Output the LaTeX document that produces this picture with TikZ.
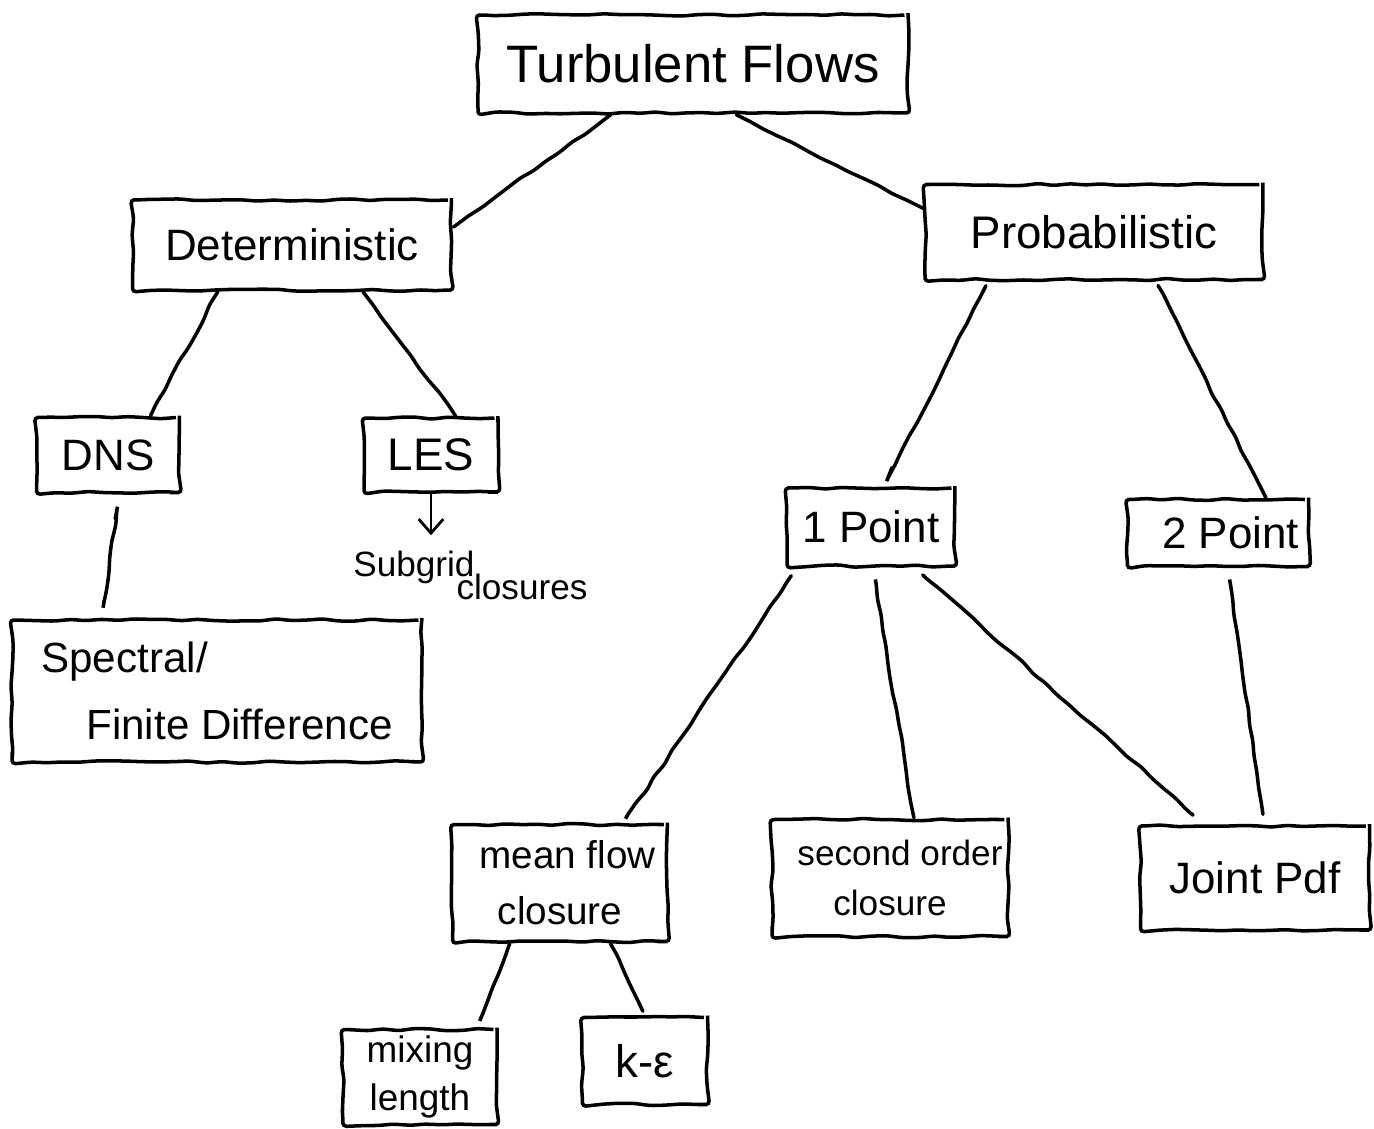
\documentclass[tikz,border=0pt]{standalone}
\usepackage{fontspec}
\setmainfont{Liberation Sans}
\usetikzlibrary{calc,decorations.pathmorphing,arrows.meta}
\begin{document}
\begin{tikzpicture}[x=0.02cm,y=-0.02cm,
  hand/.style={decorate,decoration={random steps,segment length=9pt,amplitude=0.7pt},rounded corners=2pt},
  box/.style={draw,line width=2pt,hand,inner sep=0pt,align=center},
  link/.style={line width=2pt,line cap=round,hand},
  lbl/.style={inner sep=0pt,align=center}]
\useasboundingbox (0,0) rectangle (1374,1129);
% nodes
\node[box,minimum width=8.6cm,minimum height=1.96cm,font=\fontsize{30}{34}\selectfont] (tf) at (693,64) {Turbulent Flows};
\node[box,minimum width=6.38cm,minimum height=1.8cm,font=\fontsize{25}{28}\selectfont] (det) at (292,245) {Deterministic};
\node[box,minimum width=6.76cm,minimum height=1.9cm,font=\fontsize{26}{29}\selectfont] (prob) at (1094,232) {Probabilistic};
\node[box,minimum width=2.86cm,minimum height=1.5cm,font=\fontsize{25}{28}\selectfont] (dns) at (108,455) {DNS};
\node[box,minimum width=2.68cm,minimum height=1.48cm,font=\fontsize{26}{29}\selectfont] (les) at (431,455) {LES};
\node[box,minimum width=3.36cm,minimum height=1.56cm,font=\fontsize{25}{28}\selectfont] (p1) at (871,527) {1 Point};
\node[box,minimum width=3.62cm,minimum height=1.34cm,font=\fontsize{25}{28}\selectfont] (p2) at (1218,533) {\hspace{0.5cm}2 Point};
\node[box,minimum width=8.2cm,minimum height=2.84cm,font=\fontsize{24}{38}\selectfont,align=left] (spec) at (217,691) {Spectral/\\\hspace{0.9cm}Finite Difference};
\node[box,minimum width=4.3cm,minimum height=2.34cm,font=\fontsize{22}{32}\selectfont] (mfc) at (560,883) {\hspace{0.3cm}mean flow\\closure};
\node[box,minimum width=4.72cm,minimum height=2.34cm,font=\fontsize{20}{28}\selectfont] (soc) at (890,878) {\hspace{0.4cm}second order\\closure};
\node[box,minimum width=4.58cm,minimum height=2.08cm,font=\fontsize{25}{28}\selectfont] (jpdf) at (1255,878) {Joint Pdf};
\node[box,minimum width=3.08cm,minimum height=1.9cm,font=\fontsize{21}{27}\selectfont] (mix) at (420,1077) {mixing\\length};
\node[box,minimum width=2.5cm,minimum height=1.74cm,font=\fontsize{26}{29}\selectfont] (ke) at (645,1061) {k-ε};
\node[lbl,font=\fontsize{20}{22}\selectfont] (sub) at (414,567) {Subgrid};
\node[lbl,font=\fontsize{20}{22}\selectfont] (clo) at (522,587) {closures};
% connectors
\draw[link] ($(tf.south west)!0.31!(tf.south east)$) -- ($(det.north east)!0.31!(det.south east)$);
\draw[link] ($(tf.south west)!0.6!(tf.south east)$) -- ($(prob.north west)!0.26!(prob.south west)$);
\draw[link] ($(det.south west)!0.27!(det.south east)$) -- ($(dns.north west)!0.79!(dns.north east)$);
\draw[link] ($(det.south west)!0.72!(det.south east)$) -- ($(les.north west)!0.68!(les.north east)$);
\draw[line width=1.6pt,shorten >=0.3cm,-{Straight Barb[length=8pt,width=14pt]}] (les.south) -- (les.south |- sub.north);
\draw[link,shorten <=0.5cm,shorten >=0.36cm] ($(dns.south west)!0.58!(dns.south east)$) -- ($(spec.north west)!0.22!(spec.north east)$);
\draw[link,shorten <=0.1cm,shorten >=0.4cm] ($(prob.south west)!0.19!(prob.south east)$) -- ($(p1.north west)!0.58!(p1.north east)$);
\draw[link,shorten <=0.1cm] ($(prob.south west)!0.68!(prob.south east)$) -- ($(p2.north west)!0.76!(p2.north east)$);
\draw[link,shorten <=0.2cm,shorten >=0.1cm] ($(p1.south west)!0.07!(p1.south east)$) -- ($(mfc.north west)!0.79!(mfc.north east)$);
\draw[link,shorten <=0.3cm] ($(p1.south west)!0.51!(p1.south east)$) -- ($(soc.north west)!0.6!(soc.north east)$);
\draw[link,shorten <=0.2cm,shorten >=0.28cm] ($(p1.south west)!0.76!(p1.south east)$) -- ($(jpdf.north west)!0.28!(jpdf.north east)$);
\draw[link,shorten <=0.25cm,shorten >=0.2cm] ($(p2.south west)!0.55!(p2.south east)$) -- ($(jpdf.north west)!0.54!(jpdf.north east)$);
\draw[link,shorten >=0.36cm] ($(mfc.south west)!0.27!(mfc.south east)$) -- ($(mix.north west)!0.86!(mix.north east)$);
\draw[link,shorten >=0.1cm] ($(mfc.south west)!0.73!(mfc.south east)$) -- ($(ke.north west)!0.5!(ke.north east)$);
\end{tikzpicture}
\end{document}
